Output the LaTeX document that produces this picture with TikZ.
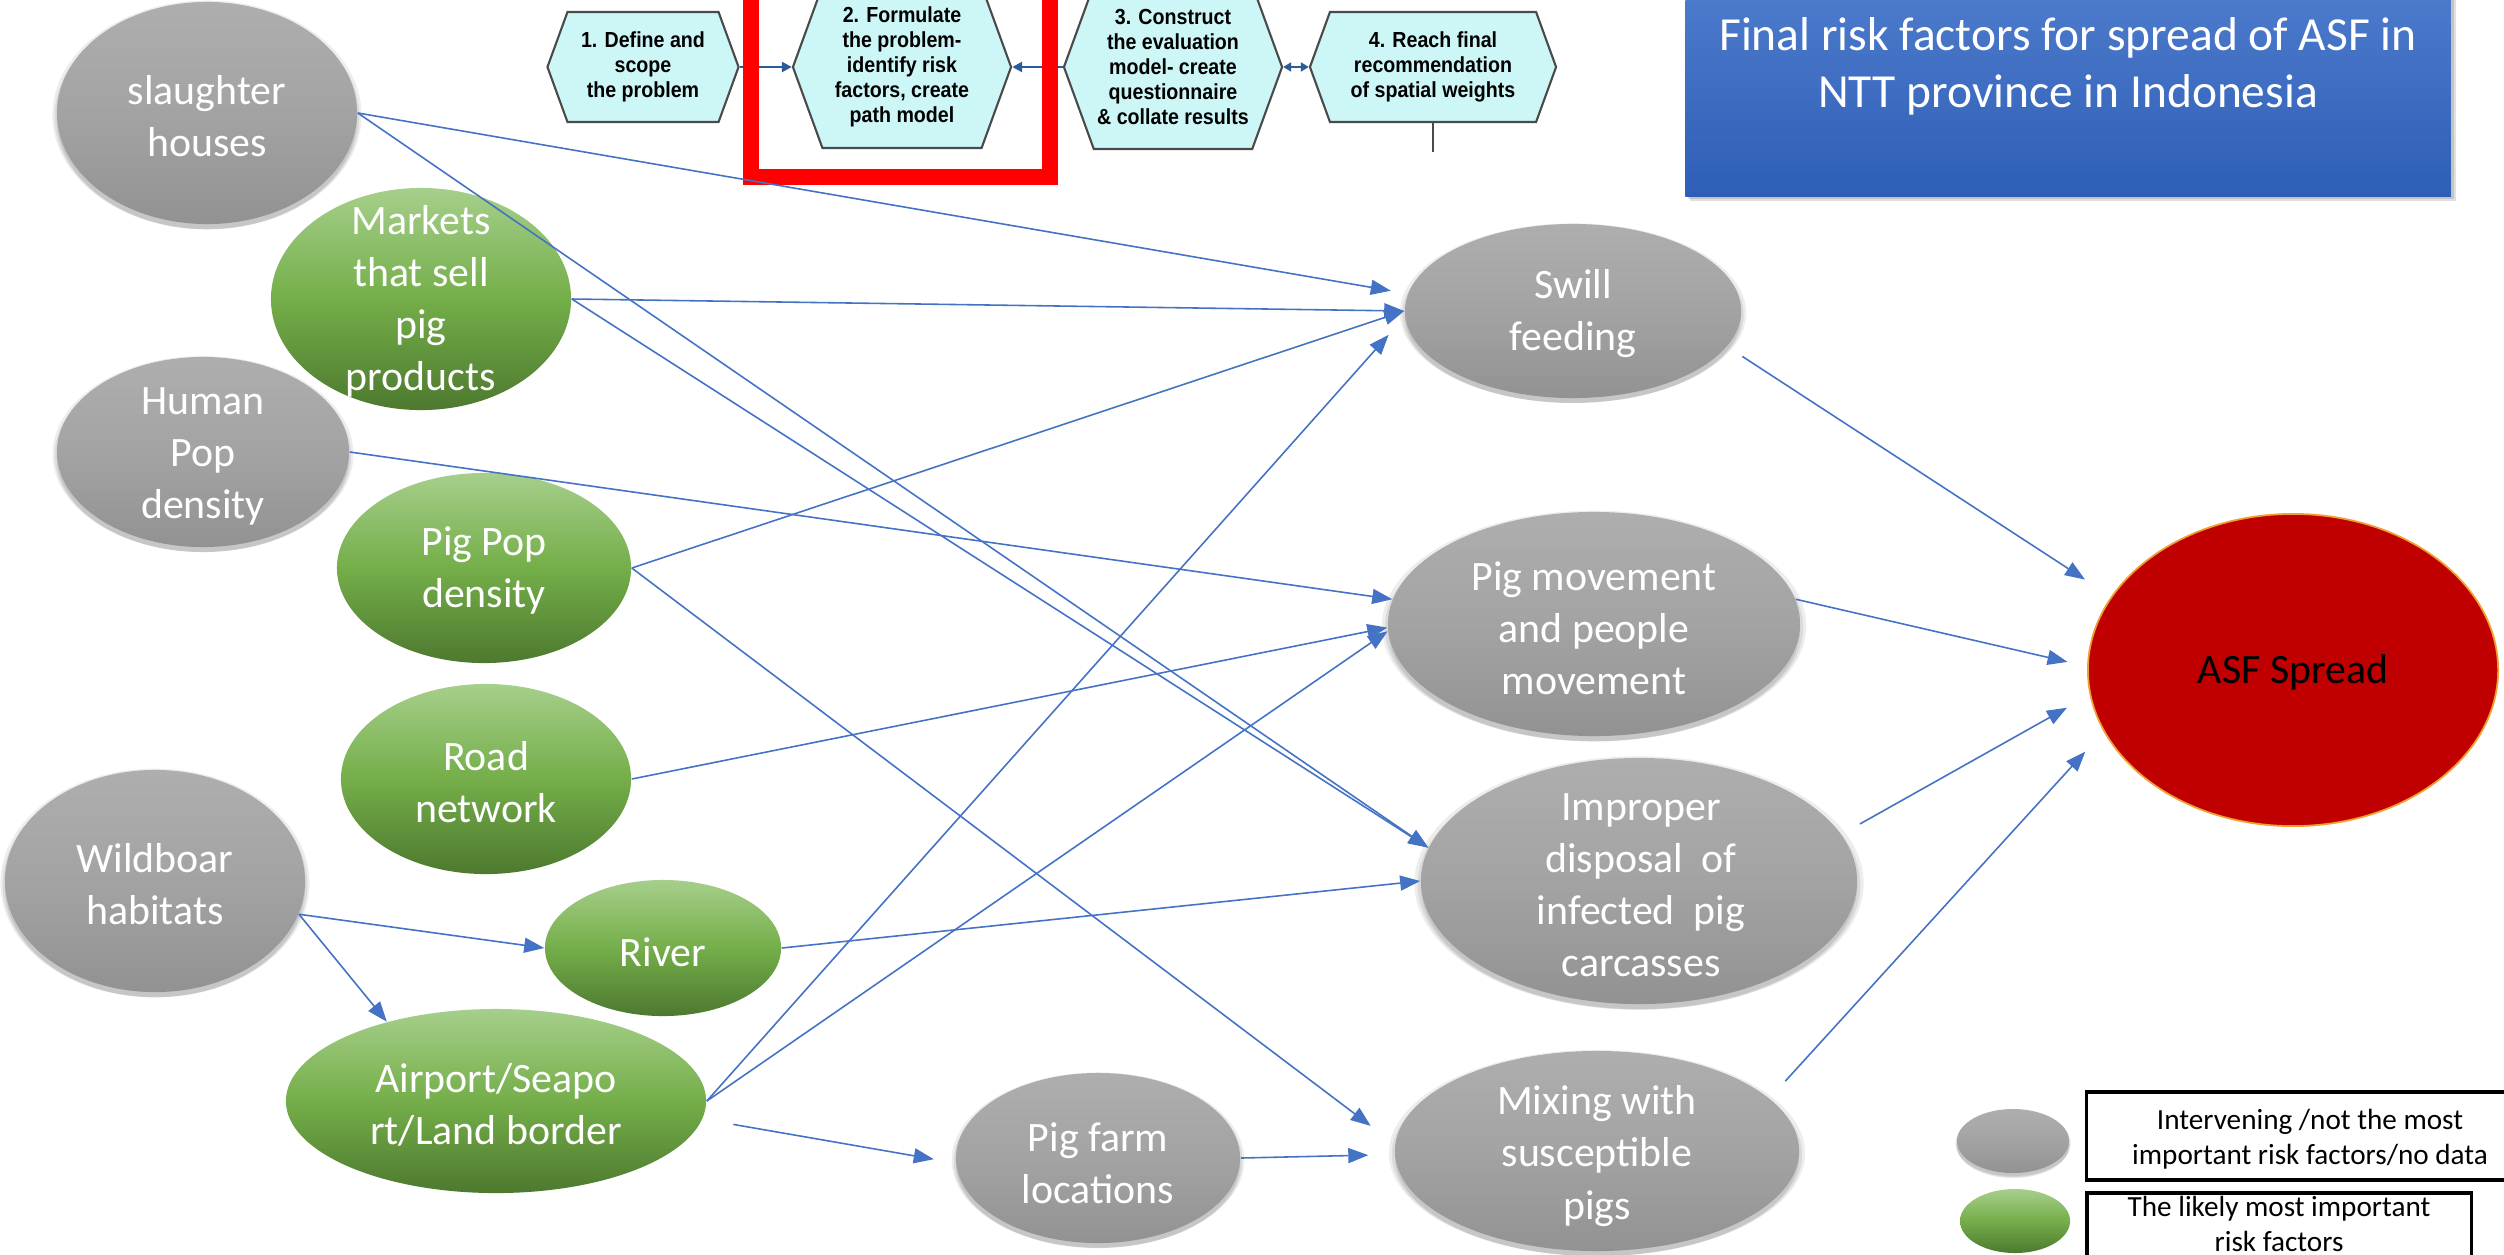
\documentclass[tikz,border=0pt]{standalone}
\usepackage{fontspec}
\setmainfont{Carlito}
\newfontfamily\hexfam[FakeStretch=0.9]{Liberation Sans}
\usetikzlibrary{shapes.geometric,shapes.symbols,arrows.meta,shadows}
\definecolor{edgeblue}{HTML}{4472C4}
\definecolor{gtop}{HTML}{AEAEAE}
\definecolor{gmid}{HTML}{A3A3A3}
\definecolor{gbot}{HTML}{929292}
\definecolor{ntop}{HTML}{A6CF8B}
\definecolor{nmid}{HTML}{74AE49}
\definecolor{nbot}{HTML}{4D792F}
\definecolor{asfred}{HTML}{C00000}
\definecolor{asfrim}{HTML}{F0A030}
\definecolor{hexfill}{HTML}{CDF6F7}
\definecolor{hexline}{HTML}{4A4A4A}
\definecolor{hexarrow}{HTML}{2D5A98}
\definecolor{ttop}{HTML}{4D7BCC}
\definecolor{tbot}{HTML}{2E5EB6}
\newcommand\myNodeFont{\fontsize{11.9pt}{14.8pt}\selectfont}
\newcommand\myHexFont{\hexfam\bfseries\fontsize{6.2pt}{7.1pt}\selectfont}
\newcommand\myTitleFont{\fontsize{13.5pt}{16.3pt}\selectfont}
\newcommand\myLegFont{\fontsize{8.3pt}{10pt}\selectfont}
\begin{document}
\begin{tikzpicture}[x=0.01cm,y=-0.01cm,
  esize/.style n args={2}{ellipse, minimum width=#1, minimum height=#2, inner sep=0pt},
  softshadow/.style={
    drop shadow={shadow xshift=0cm, shadow yshift=-0.02cm, shadow scale=1.03, opacity=0.07, fill=black},
    drop shadow={shadow xshift=0cm, shadow yshift=-0.035cm, shadow scale=1.015, opacity=0.08, fill=black},
    drop shadow={shadow xshift=0cm, shadow yshift=-0.05cm, shadow scale=1.0, opacity=0.09, fill=black}},
  grynode/.style={top color=gtop, bottom color=gbot, middle color=gmid, softshadow},
  grnnode/.style={top color=ntop, bottom color=nbot, middle color=nmid},
  ntext/.style={text=white, font=\myNodeFont, align=center, inner sep=0pt},
  conn/.style={draw=edgeblue, line width=0.45pt, -{Triangle[length=0.2cm,width=0.15cm]}},
  hexnode/.style={signal, signal to=west and east, signal pointer angle=140,
    draw=hexline, line width=0.6pt, fill=hexfill, inner sep=0pt},
  htext/.style={font=\myHexFont, align=center, inner sep=0pt},
  hexarr/.style={draw=hexarrow, line width=0.8pt, -{Triangle[length=0.1cm,width=0.1cm]}},
  hexdarr/.style={draw=hexarrow, line width=0.8pt, {Triangle[length=0.08cm,width=0.09cm]}-{Triangle[length=0.08cm,width=0.09cm]}},
]
\useasboundingbox (0,0) rectangle (2504,1254);
\clip (0,0) rectangle (2504,1254);
\fill[white] (0,0) rectangle (2504,1254);

% title box
\node[rectangle, minimum width=7.65cm, minimum height=2.06cm, inner sep=0pt,
  top color=ttop, bottom color=tbot,
  drop shadow={shadow xshift=0.03cm, shadow yshift=-0.03cm, opacity=0.12, fill=black},
  drop shadow={shadow xshift=0.05cm, shadow yshift=-0.05cm, opacity=0.12, fill=black}] (tb) at (2068,93) {};
\node[text=white, font=\myTitleFont, align=center, inner sep=0pt] (tt) at (2068,66)
  {Final risk factors for spread of ASF in\\NTT province in Indonesia};

% process hexagons
\node[hexnode, minimum width=1.91cm, minimum height=1.10cm] (h1) at (643,67) {};
\node[hexnode, minimum width=2.18cm, minimum height=1.62cm] (h2) at (902,67) {};
\node[hexnode, minimum width=2.18cm, minimum height=1.64cm] (h3) at (1173,67) {};
\node[hexnode, minimum width=2.46cm, minimum height=1.10cm] (h4) at (1433,67) {};
\node[htext] (h1t) at (643,67) {1. Define and\\scope\\the problem};
\node[htext] (h2t) at (902,67) {2. Formulate\\the problem-\\identify risk\\factors, create\\path model};
\node[htext] (h3t) at (1173,67) {3. Construct\\the evaluation\\model- create\\questionnaire\\\& collate results};
\node[htext] (h4t) at (1433,67) {4. Reach final\\recommendation\\of spatial weights};
\draw[hexarr] (h1.east) -- (h2.west);
\draw[hexarr] (h3.west) -- (h2.east);
\draw[hexdarr] (h3.east) -- (h4.west);
\coordinate (h4b) at (1433,152);
\draw[draw=hexline, line width=0.6pt] (h4.south) -- (h4b);
\draw[red, line width=0.16cm] (751,-40) -- (751,177) -- (1050,177) -- (1050,-40);

% factor nodes
\node[grynode, esize={3cm}{2.22cm}] (sl) at (207,113) {};
\node[grnnode, esize={3cm}{2.22cm}] (mk) at (421,299) {};
\node[grynode, esize={2.92cm}{1.9cm}] (hp) at (203,452) {};
\node[grnnode, esize={2.94cm}{1.9cm}] (pp) at (484,568) {};
\node[grnnode, esize={2.9cm}{1.9cm}] (rd) at (486,779) {};
\node[grynode, esize={3cm}{2.22cm}] (wb) at (155,881) {};
\node[grnnode, esize={2.36cm}{1.36cm}] (rv) at (663,948) {};
\node[grnnode, esize={4.2cm}{1.84cm}] (ap) at (496,1101) {};
\node[grynode, esize={2.84cm}{1.7cm}] (pf) at (1098,1158) {};
\node[grynode, esize={3.36cm}{1.74cm}] (sw) at (1573,311) {};
\node[grynode, esize={4.12cm}{2.24cm}] (pm) at (1594,624) {};
\node[grynode, esize={4.36cm}{2.46cm}] (im) at (1639,881) {};
\node[grynode, esize={4.04cm}{2cm}] (mx) at (1597,1151) {};
\node[esize={4.1cm}{3.12cm}, fill=asfred, draw=asfrim, line width=0.5pt] (asf) at (2293,670) {};

\node[ntext] (slt) at (207,116) {slaughter\\houses};
\node[ntext] (mkt) at (421,301) {Markets\\that sell\\pig\\products};
\node[ntext] (hpt) at (203,456) {Human\\Pop\\density};
\node[ntext] (ppt) at (484,570) {Pig Pop\\density};
\node[ntext] (rdt) at (486,782) {Road\\network};
\node[ntext] (wbt) at (155,884) {Wildboar\\habitats};
\node[ntext] (rvt) at (663,952) {River};
\node[ntext] (apt) at (496,1105) {Airport/Seapo\\rt/Land border};
\node[ntext] (pft) at (1098,1163) {Pig farm\\locations};
\node[ntext] (swt) at (1573,314) {Swill\\feeding};
\node[ntext] (pmt) at (1594,628) {Pig movement\\and people\\movement};
\node[ntext] (imt) at (1641,885) {Improper\\disposal\hspace{0.45em}of\\infected\hspace{0.45em}pig\\carcasses};
\node[ntext] (mxt) at (1597,1156) {Mixing with\\susceptible\\pigs};
\node[ntext, text=black] (asft) at (2293,672) {ASF Spread};

% connectors
\draw[conn, shorten >=0.17cm] (sl.0) -- (sw.174);
\draw[conn] (sl.0) -- (im.171);
\draw[conn] (mk.0) -- (sw.180);
\draw[conn] (mk.0) -- (im.171);
\draw[conn] (hp.0) -- (pm.173);
\draw[conn] (pp.0) -- (sw.180);
\draw[conn, shorten >=0.3cm] (pp.0) -- (mx.178);
\draw[conn] (rd.0) -- (pm.181);
\draw[conn] (rv.0) -- (im.180);
\draw[conn, shorten >=0.24cm] (ap.0) -- (sw.182);
\draw[conn] (ap.0) -- (pm.182);
\draw[conn, shorten <=0.31cm, shorten >=0.22cm] (ap.-5) -- (pf.182);
\draw[conn, shorten >=0.26cm] (pf.0) -- (mx.181);
\draw[conn] (wb.-13) -- (rv.180);
\draw[conn] (wb.-13) -- (ap.144);
\draw[conn, shorten <=0.18cm, shorten >=0.31cm] (sw.-13) -- (asf.158);
\draw[conn, shorten >=0.2cm] (pm.7) -- (asf.179);
\draw[conn, shorten <=0.21cm, shorten >=0.26cm] (im.13) -- (asf.187);
\draw[conn, shorten <=0.23cm, shorten >=0.27cm] (mx.17) -- (asf.198);

% legend
\node[grynode, esize={1.12cm}{0.64cm}] (lg1) at (2013,1141) {};
\node[grnnode, esize={1.1cm}{0.64cm}] (lg2) at (2015,1221) {};
\node[draw=black, line width=0.9pt, fill=white, minimum width=4.52cm, minimum height=0.88cm,
  inner sep=0pt] (lb1) at (2313,1136) {};
\node[font=\myLegFont, align=center, inner sep=0pt] (lb1t) at (2310,1139)
  {Intervening /not the most\\important risk factors/no data};
\node[draw=black, line width=0.9pt, fill=white, minimum width=3.84cm, minimum height=0.72cm,
  inner sep=0pt] (lb2) at (2279,1229) {};
\node[font=\myLegFont, align=center, inner sep=0pt] (lb2t) at (2279,1224)
  {The likely most important\\risk factors};
\end{tikzpicture}
\end{document}
